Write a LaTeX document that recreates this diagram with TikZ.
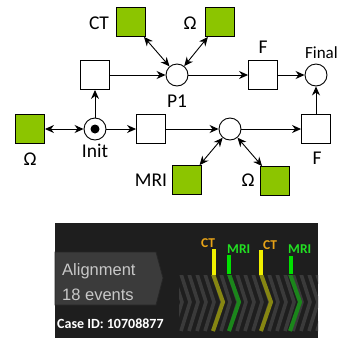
\documentclass[tikz,border=0pt]{standalone}
\usepackage{fontspec}
\setmainfont{Carlito}
\newfontfamily\arialfont{Liberation Sans}
\usetikzlibrary{arrows.meta}
\definecolor{resgreen}{HTML}{8CC500}
\definecolor{panelbg}{HTML}{1E1E1E}
\definecolor{tabgray}{HTML}{3B3B3B}
\definecolor{tabtext}{HTML}{C8C8C8}
\definecolor{chevgray}{HTML}{3A3A3A}
\definecolor{ctorange}{HTML}{E8A317}
\definecolor{mrigreen}{HTML}{22E022}
\definecolor{baryellow}{HTML}{F0F000}
\definecolor{bargreen}{HTML}{00E000}
\definecolor{dimyellow}{HTML}{868612}
\definecolor{dimgreen}{HTML}{1B861B}

\begin{document}
\begin{tikzpicture}[x=1pt, y=-1pt, every node/.style={font=\fontsize{19.5}{20}\selectfont},
  trans/.style={draw, line width=0.9pt, fill=white, minimum size=29pt, inner sep=0pt},
  res/.style={trans, fill=resgreen},
  place/.style={draw, circle, line width=0.9pt, fill=white, minimum size=22pt, inner sep=0pt},
  arc/.style={line width=0.9pt, -{Stealth[length=9pt, width=8pt]}},
  biarc/.style={line width=0.9pt, {Stealth[length=9pt, width=8pt]}-{Stealth[length=9pt, width=8pt]}},
  chev/.style={line width=3.6pt, chevgray},
  evt/.style={font=\bfseries\fontsize{13.5}{14}\selectfont, anchor=base west, inner sep=0pt}]
\useasboundingbox (0,0) rectangle (339,338);
% petri net
\node[trans] (t1) at (95,75) {};
\node[place] (P1) at (177,75) {};
\node[trans] (fTop) at (263,75) {};
\node[place] (final) at (316,75) {};
\node[place] (init) at (95,129) {};
\node[circle, fill, minimum size=9pt, inner sep=0pt] (tok) at (init) {};
\node[trans] (t2) at (151,129) {};
\node[place] (P2) at (230,129) {};
\node[trans] (fLow) at (316,129) {};
\node[res] (ct) at (131,22) {};
\node[res] (omTop) at (220,22) {};
\node[res] (omLeft) at (30,129) {};
\node[res] (mri) at (187,180) {};
\node[res] (omLow) at (275,181) {};
\node (ctLbl) at (99,23) {CT};
\node (omTopLbl) at (190,23) {Ω};
\node (fTopLbl) at (263,47.5) {F};
\node[anchor=east, inner sep=0pt, font=\fontsize{17}{18}\selectfont] (finalLbl) at (338,53) {Final};
\node (P1Lbl) at (177,101.5) {P1};
\node (initLbl) at (95,151) {Init};
\node (omLeftLbl) at (30,159) {Ω};
\node (fLowLbl) at (317,158) {F};
\node (mriLbl) at (151,180) {MRI};
\node (omLowLbl) at (248,180) {Ω};
\draw[arc] (t1) -- (P1);
\draw[arc] (P1) -- (fTop);
\draw[arc] (fTop) -- (final);
\draw[arc] (init) -- (t1);
\draw[arc] (init) -- (t2);
\draw[arc] (t2) -- (P2);
\draw[arc] (P2) -- (fLow);
\draw[arc] (fLow) -- (final);
\draw[biarc] (omLeft) -- (init);
\draw[biarc] (ct) -- (P1);
\draw[biarc] (omTop) -- (P1);
\draw[biarc] (mri) -- (P2);
\draw[biarc] (omLow) -- (P2);
% trace panel
\fill[panelbg] (55,223) rectangle (318,338);
\filldraw[fill=tabgray, draw=black!85, line width=0.8pt] (55,252) -- (156,252) -- (163,278) -- (156,305) -- (55,305) -- cycle;
\node[font=\arialfont\fontsize{16.5}{17}\selectfont, text=tabtext, anchor=base west, inner sep=0pt] (algn) at (62,275) {Alignment};
\node[font=\arialfont\fontsize{16.5}{17}\selectfont, text=tabtext, anchor=base west, inner sep=0pt] (nev) at (62,300) {18 events};
\node[font=\bfseries\fontsize{14}{14}\selectfont, text=white, anchor=base west, inner sep=0pt] (caseid) at (57,328) {Case ID: 10708877};
\begin{scope}
  \clip (179,275) rectangle (318,331);
  \foreach \x in {173,181,...,317}
    \draw[chev] (\x,274) -- (\x+9,302) -- (\x,331);
  \draw[chev, dimyellow, line width=4pt] (213,274) -- (223,302) -- (213,331);
  \draw[chev, dimgreen, line width=4pt] (229,274) -- (239,302) -- (229,331);
  \draw[chev, dimyellow, line width=4pt] (261,274) -- (271,302) -- (261,331);
  \draw[chev, dimgreen, line width=4pt] (290,274) -- (300,302) -- (290,331);
\end{scope}
\fill[baryellow] (212,249) rectangle (216,275);
\fill[bargreen] (227,255) rectangle (231,274);
\fill[baryellow] (259,250) rectangle (263,275);
\fill[bargreen] (289,256) rectangle (293,274);
\node[evt, text=ctorange] (ct1) at (201,247) {CT};
\node[evt, text=mrigreen] (mri1) at (227,253) {MRI};
\node[evt, text=ctorange] (ct2) at (263,249) {CT};
\node[evt, text=mrigreen] (mri2) at (288,253) {MRI};
\end{tikzpicture}
\end{document}
